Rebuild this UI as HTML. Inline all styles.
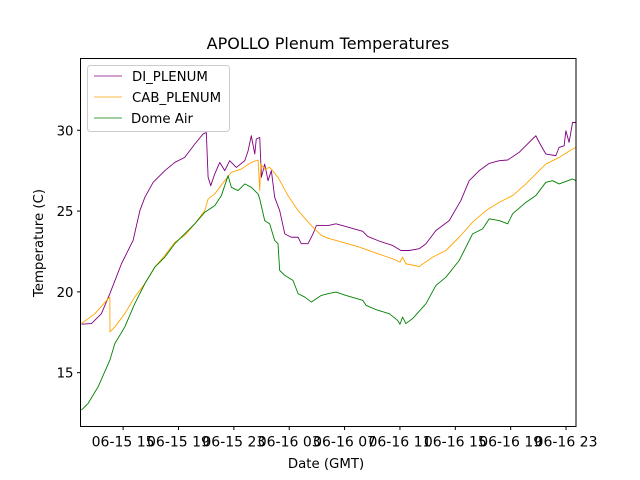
<!DOCTYPE html>
<html><head><meta charset="utf-8"><style>
html,body{margin:0;padding:0;background:#fff;}
svg{display:block;font-family:"DejaVu Sans","Liberation Sans",sans-serif;}
</style></head><body>
<svg id="chart" width="640" height="480" xmlns="http://www.w3.org/2000/svg">
<rect x="0" y="0" width="640" height="480" fill="#fff"/>
<text x="328" y="49" text-anchor="middle" font-size="16" fill="#000">APOLLO Plenum Temperatures</text>
<g id="series"></g>
<g id="axes"></g>
<rect x="80.5" y="58.5" width="495.5" height="368" fill="none" stroke="#000" stroke-width="1"/>
<text x="326" y="468" text-anchor="middle" font-size="13.3" fill="#000">Date (GMT)</text>
<text x="0" y="0" transform="translate(43,243) rotate(-90)" text-anchor="middle" font-size="13.3" fill="#000">Temperature (C)</text>
<g>
<rect x="87.5" y="65.5" width="142" height="66" rx="3" fill="#fff" fill-opacity="0.8" stroke="#ccc"/>
<line x1="94" y1="76" x2="122" y2="76" stroke="#800080" stroke-width="0.8"/>
<text x="132" y="81" font-size="13.3">DI_PLENUM</text>
<line x1="94" y1="97" x2="122" y2="97" stroke="#ffa500" stroke-width="0.8"/>
<text x="132" y="102" font-size="13.3">CAB_PLENUM</text>
<line x1="94" y1="118" x2="122" y2="118" stroke="#008000" stroke-width="0.8"/>
<text x="131" y="123" font-size="13.3">Dome Air</text>
</g>
</svg>
<script>
const diHours=[11.99,12.71,13.43,14.04,14.88,15.72,16.21,16.57,17.17,18.01,18.73,19.45,20.18,20.78,21.01,21.14,21.33,21.62,21.98,22.34,22.70,23.18,23.79,24.03,24.26,24.51,24.62,24.87,24.99,25.23,25.47,25.71,25.95,26.31,26.68,27.15,27.64,27.87,28.36,28.72,28.96,29.8,30.38,31.1,32.31,32.67,33.51,34.47,35.07,35.67,36.39,36.88,37.6,38.56,39.4,40.0,40.73,41.45,42.17,42.78,43.61,44.22,44.82,45.06,45.54,46.26,46.5,46.86,46.99,47.22,47.47,47.71];
const diTemps=[18.0,18.04,18.65,19.89,21.74,23.18,25.03,25.85,26.78,27.5,28.01,28.32,29.15,29.77,29.86,27.09,26.57,27.3,28.01,27.5,28.12,27.7,28.12,28.73,29.66,28.53,29.46,29.56,27.09,27.91,26.88,27.5,25.85,25.03,23.59,23.38,23.38,22.98,22.98,23.59,24.1,24.1,24.21,24.04,23.75,23.43,23.14,22.87,22.56,22.56,22.67,22.98,23.8,24.41,25.65,26.88,27.5,27.95,28.12,28.16,28.63,29.15,29.66,29.25,28.53,28.43,28.94,29.04,29.97,29.25,30.48,30.48];
const cabHours=[11.99,12.96,13.92,14.04,14.05,14.4,15.12,15.84,16.57,17.29,18.01,18.73,19.45,20.18,20.9,21.14,21.62,22.34,22.82,23.54,24.26,24.75,24.87,24.94,25.23,25.59,26.19,26.91,27.64,28.6,29.32,29.8,30.86,32.06,33.27,34.47,35.0,35.19,35.43,36.39,37.36,38.32,39.28,40.25,41.21,42.17,43.14,44.1,44.82,45.54,46.5,47.47,47.71];
const cabTemps=[18.04,18.65,19.58,19.68,17.52,17.83,18.65,19.68,20.51,21.53,22.25,23.07,23.49,24.21,25.03,25.75,26.06,26.88,27.4,27.6,28.01,28.16,26.27,27.91,27.6,27.7,27.09,25.96,25.03,24.1,23.49,23.32,23.07,22.77,22.4,22.05,21.84,22.15,21.74,21.57,22.15,22.56,23.38,24.31,25.03,25.54,25.96,26.68,27.3,27.91,28.32,28.84,28.94];
const domeHours=[11.99,12.47,13.19,14.04,14.4,15.12,15.84,16.57,17.29,18.01,18.73,19.45,20.18,20.9,21.62,22.1,22.58,22.82,23.3,23.79,24.26,24.75,24.87,25.23,25.59,25.95,26.19,26.31,26.68,27.27,27.64,28.12,28.6,29.32,29.8,30.38,31.1,32.31,32.55,33.27,34.23,34.83,35.0,35.19,35.43,35.92,36.88,37.6,38.32,39.28,40.25,40.97,41.45,42.17,42.78,43.14,44.1,44.82,45.54,46.03,46.5,47.47,47.71];
const domeTemps=[12.69,13.1,14.12,15.77,16.8,17.83,19.27,20.51,21.53,22.15,22.98,23.59,24.21,24.93,25.34,25.96,27.19,26.47,26.27,26.68,26.47,26.06,25.75,24.41,24.21,23.18,22.98,21.33,21.02,20.71,19.89,19.68,19.37,19.78,19.89,19.99,19.78,19.48,19.17,18.9,18.65,18.24,17.99,18.44,18.04,18.35,19.27,20.4,20.91,21.94,23.59,23.9,24.52,24.41,24.21,24.83,25.54,25.96,26.78,26.88,26.68,26.99,26.88];
const xTickHours=[15,19,23,27,31,35,39,43,47];
const xTickLabels=["06-15 15","06-15 19","06-15 23","06-16 03","06-16 07","06-16 11","06-16 15","06-16 19","06-16 23"];
const yTickValues=[15,20,25,30];

const X0=80.5,X1=576,Y0=426.5,Y1=58.5;
const HMIN=11.92,HMAX=47.72,TMIN=11.67,TMAX=34.44;
function xScale(h){return X0+(h-HMIN)/(HMAX-HMIN)*(X1-X0);}
function yScale(t){return Y0-(t-TMIN)/(TMAX-TMIN)*(Y0-Y1);}
const NS="http://www.w3.org/2000/svg";
const sg=document.getElementById('series');
function drawLine(hs,ts,color,name){
  let d='';
  for(let i=0;i<hs.length;i++){d+=(i?'L':'M')+xScale(hs[i]).toFixed(2)+' '+yScale(ts[i]).toFixed(2);}
  const p=document.createElementNS(NS,'path');
  p.setAttribute('d',d);p.setAttribute('fill','none');p.setAttribute('stroke',color);
  p.setAttribute('stroke-width','0.9');p.setAttribute('stroke-linejoin','round');
  
  
  sg.appendChild(p);
}
drawLine(diHours,diTemps,'#800080','di-plenum-line');
drawLine(cabHours,cabTemps,'#ffa500','cab-plenum-line');
drawLine(domeHours,domeTemps,'#008000','dome-air-line');
const ag=document.getElementById('axes');
xTickHours.forEach((h,i)=>{
  const x=xScale(h);
  const l=document.createElementNS(NS,'line');
  l.setAttribute('x1',x);l.setAttribute('x2',x);l.setAttribute('y1',Y0);l.setAttribute('y2',Y0+3.5);
  l.setAttribute('stroke','#000');
  
  
  ag.appendChild(l);
  const t=document.createElementNS(NS,'text');
  t.setAttribute('x',x);t.setAttribute('y',Y0+20);t.setAttribute('text-anchor','middle');t.setAttribute('font-size','14');
  t.textContent=xTickLabels[i];
  
  
  ag.appendChild(t);
});
yTickValues.forEach(v=>{
  const y=yScale(v);
  const l=document.createElementNS(NS,'line');
  l.setAttribute('x1',X0-3.5);l.setAttribute('x2',X0);l.setAttribute('y1',y);l.setAttribute('y2',y);
  l.setAttribute('stroke','#000');
  
  
  ag.appendChild(l);
  const t=document.createElementNS(NS,'text');
  t.setAttribute('x',X0-7);t.setAttribute('y',y+5);t.setAttribute('text-anchor','end');t.setAttribute('font-size','13.3');
  t.textContent=String(v);
  
  
  ag.appendChild(t);
});
</script>
</body></html>
